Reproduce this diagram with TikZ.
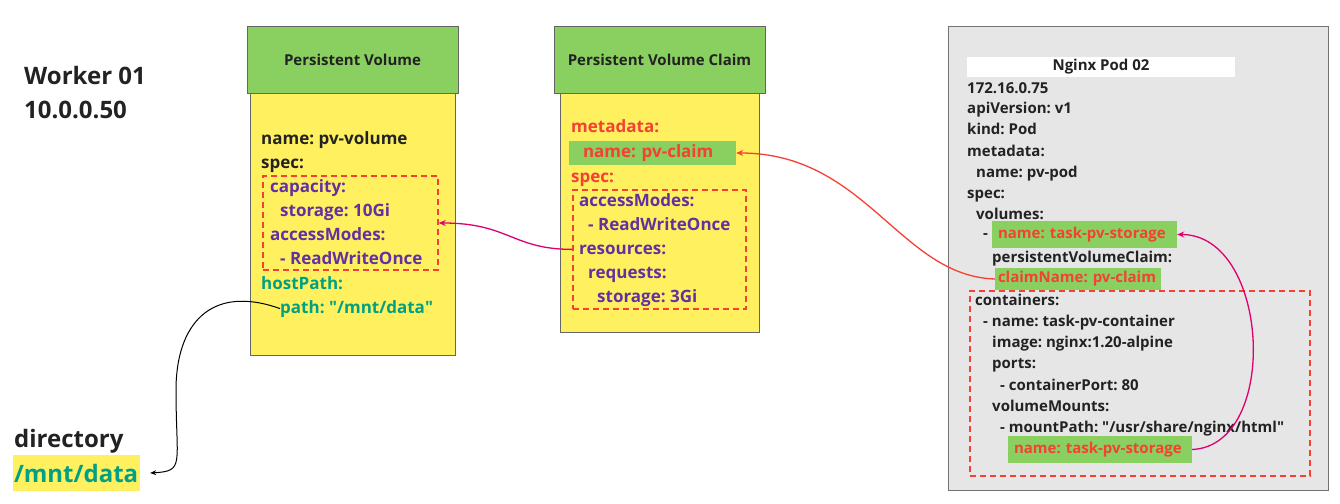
\documentclass[tikz,border=0pt]{standalone}
\usepackage{fontspec}
\setmainfont{Open Sans}
\usetikzlibrary{arrows.meta}
\definecolor{hdgreen}{RGB}{138,208,96}
\definecolor{pvyellow}{RGB}{255,240,96}
\definecolor{podgrey}{RGB}{230,230,230}
\definecolor{keyred}{RGB}{245,64,52}
\definecolor{keypurple}{RGB}{98,48,160}
\definecolor{keyteal}{RGB}{0,160,132}
\definecolor{linkpink}{RGB}{222,0,110}
\definecolor{inkdark}{RGB}{34,34,34}
\newcommand\pvfont{\bfseries\fontsize{17}{20}\selectfont}
\newcommand\podfont{\bfseries\fontsize{15}{18}\selectfont}
\newcommand\bigfont{\bfseries\fontsize{24}{28}\selectfont}
\tikzset{
  hdbox/.style={draw=black!60, fill=hdgreen, font=\podfont, text=inkdark},
  bodybox/.style={draw=black!60, fill=pvyellow},
  ln/.style={anchor=base west, inner sep=0pt, font=\pvfont, text=inkdark},
  podln/.style={ln, font=\podfont},
  bigln/.style={ln, font=\bigfont},
  hl/.style={fill=hdgreen, text=keyred, align=left, inner ysep=0pt},
  grp/.style={draw=keyred, dash pattern=on 6pt off 4pt, line width=1.5pt},
  link/.style={-{Stealth[length=7pt,width=6pt]}, line width=1.3pt},
}
\frenchspacing

\begin{document}
\begin{tikzpicture}[x=1pt,y=-1pt]
		\useasboundingbox (0,0) rectangle (1340,503);
		%%%%% BOXES %%%%%
		\node[bodybox, minimum width=205pt, minimum height=262pt] (pvbody) at (352.5,224) {};
		\node[hdbox, minimum width=211pt, minimum height=67pt] (pvhead) at (352.5,59.5) {Persistent Volume};
		\node[bodybox, minimum width=199pt, minimum height=239pt] (pvcbody) at (659.5,212.5) {};
		\node[hdbox, minimum width=211pt, minimum height=67pt] (pvchead) at (659.5,59.5) {Persistent Volume Claim};
		\node[draw=black!55, fill=podgrey, minimum width=380pt, minimum height=464pt] (pod) at (1138,258) {};
		\node[fill=white, font=\podfont, text=inkdark, minimum width=268pt, minimum height=20pt, inner sep=0pt] (podtitle) at (1101,67) {Nginx Pod 02};
		
		\node[grp, minimum width=175pt, minimum height=94pt] (pvgrp) at (350.5,223) {};
		\node[grp, minimum width=173pt, minimum height=119pt] (pvcgrp) at (659.5,249.5) {};
		\node[grp, minimum width=340pt, minimum height=185pt] (podgrp) at (1140,383.5) {};
		
		%%%%% WORKER %%%%%
		\node[bigln] (worker) at (24,84) {Worker 01};
		\node[bigln] (workerip) at (24,118) {10.0.0.50};
		\node[bigln] (dirlabel) at (14,447) {directory};
		\node[hl, fill=pvyellow, text=keyteal, font=\bigfont, inner xsep=1pt, text width=125pt, minimum height=36pt] (dirhl) at (76.5,473) {/mnt/data};
		
		%%%%% PV %%%%%
		\node[ln] (pvname) at (261,144) {name: pv-volume};
		\node[ln] (pvspec) at (261,168) {spec:};
		\node[ln, text=keypurple] (pvcap) at (270,192.5) {capacity:};
		\node[ln, text=keypurple] (pvstor) at (280,216.5) {storage: 10Gi};
		\node[ln, text=keypurple] (pvmodes) at (270,240.5) {accessModes:};
		\node[ln, text=keypurple] (pvrwo) at (280,264.5) {- ReadWriteOnce};
		\node[ln, text=keyteal] (pvhost) at (261,289) {hostPath:};
		\node[ln, text=keyteal] (pvpath) at (280,313) {path: \textquotedbl/mnt/data\textquotedbl};
		
		%%%%% PVC %%%%%
		\node[ln, text=keyred] (pvcmeta) at (571,132) {metadata:};
		\node[hl, font=\pvfont, inner xsep=14pt, text width=139pt, minimum height=24pt] (pvclaimhl) at (652.5,153) {name: pv-claim};
		\node[ln, text=keyred] (pvcspec) at (571,182) {spec:};
		\node[ln, text=keypurple] (pvcmodes) at (579,206) {accessModes:};
		\node[ln, text=keypurple] (pvcrwo) at (588,230) {- ReadWriteOnce};
		\node[ln, text=keypurple] (pvcres) at (579,254) {resources:};
		\node[ln, text=keypurple] (pvcreq) at (588,278) {requests:};
		\node[ln, text=keypurple] (pvcstor) at (597,302) {storage: 3Gi};
		
		%%%%% POD %%%%%
		\node[podln] (podip) at (967,93) {172.16.0.75};
		\node[podln] (podapi) at (967,113) {apiVersion: v1};
		\node[podln] (podkind) at (967,134) {kind: Pod};
		\node[podln] (podmeta) at (967,156) {metadata:};
		\node[podln] (podname) at (976,177) {name: pv-pod};
		\node[podln] (podspec) at (967,198) {spec:};
		\node[podln] (podvols) at (976,219) {volumes:};
		\node[podln] (poddash) at (983,238) {-};
		\node[hl, font=\podfont, inner xsep=6pt, text width=173pt, minimum height=27pt] (volhl) at (1084.5,234.5) {name: task-pv-storage};
		\node[podln] (podpvc) at (992,262) {persistentVolumeClaim:};
		\node[hl, font=\podfont, inner xsep=3pt, text width=160pt, minimum height=22pt] (claimhl) at (1078,279) {claimName: pv-claim};
		\node[podln] (podcont) at (975,305) {containers:};
		\node[podln] (podcname) at (983,326) {- name: task-pv-container};
		\node[podln] (podimage) at (992,347) {image: nginx:1.20-alpine};
		\node[podln] (podports) at (992,368) {ports:};
		\node[podln] (podport) at (1000,390) {- containerPort: 80};
		\node[podln] (podmounts) at (992,411) {volumeMounts:};
		\node[podln] (podmpath) at (1000,432) {- mountPath: \textquotedbl/usr/share/nginx/html\textquotedbl};
		\node[hl, font=\podfont, inner xsep=6pt, text width=172pt, minimum height=27pt] (mounthl) at (1100,449.5) {name: task-pv-storage};
		
		%%%%% LINKS %%%%%
		\coordinate (bend) at (176,390);
		\draw[link, line width=1pt, -{Stealth[length=6pt,width=5pt]}] (pvpath.west) .. controls +(-70,-25) and +(0,-65) .. (bend) .. controls +(0,75) and +(35,-2) .. ([xshift=10pt]dirhl.east);
		\draw[link, linkpink] (pvcgrp.west |- pvcres.west) .. controls +(-60,0) and +(70,0) .. (pvgrp.east);
		\draw[link, keyred] (claimhl.west) .. controls +(-95,-3) and +(130,0) .. (pvclaimhl.east);
		\draw[link, linkpink] (mounthl.east) .. controls +(88,-4) and +(93,0) .. (volhl.east);
	\end{tikzpicture}
\end{document}
